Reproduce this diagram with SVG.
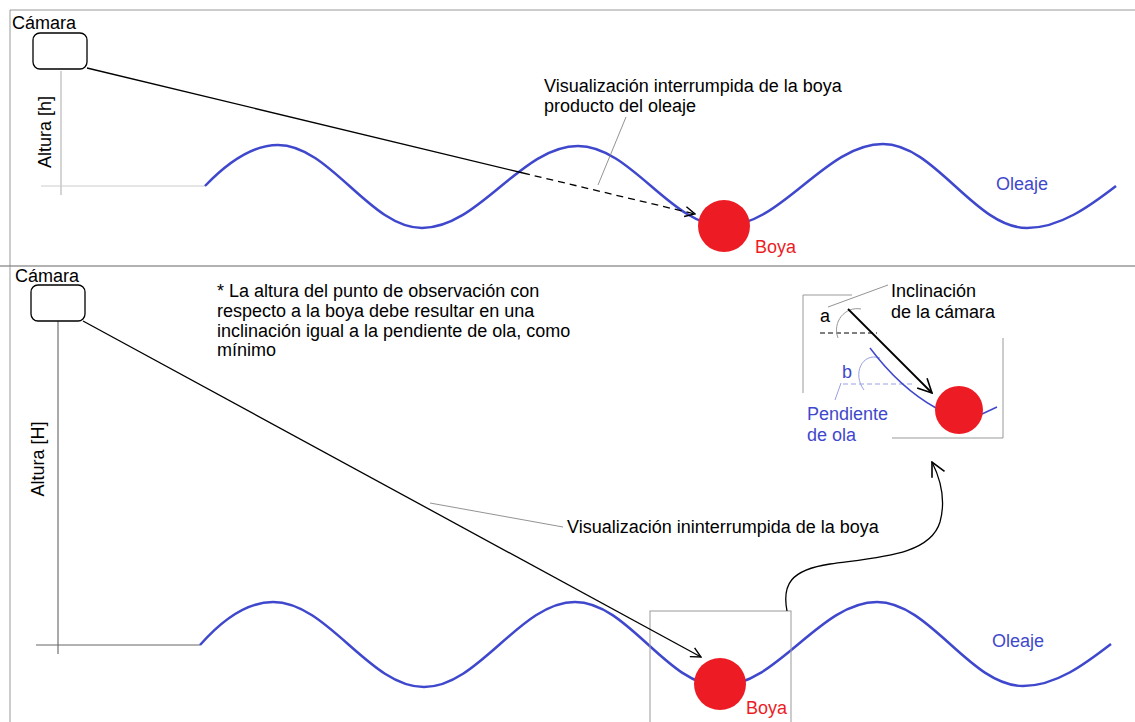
<svg xmlns="http://www.w3.org/2000/svg" width="1135" height="722" viewBox="0 0 1135 722">
<defs>
<style>
text{font-family:"Liberation Sans",Arial,sans-serif;font-size:18px;fill:#000}
.blue{fill:#3f48cc}
.red{fill:#ed1c24}
.wave{fill:none;stroke:#3f48cc;stroke-width:2.5}
.frame{fill:none;stroke:#999;stroke-width:1}
.sight{fill:none;stroke:#000;stroke-width:1.3}
.lead{fill:none;stroke:#777;stroke-width:0.8}
.cam{fill:#fff;stroke:#000;stroke-width:1.3}
.buoy{fill:#ed1c24}
</style>
<marker id="arr" viewBox="0 0 12 12" refX="11" refY="6" markerWidth="12" markerHeight="12" markerUnits="userSpaceOnUse" orient="auto">
<path d="M1,1 L11,6 L1,11" fill="none" stroke="#000" stroke-width="1.4"/>
</marker>
<marker id="arr2" viewBox="0 0 16 16" refX="15" refY="8" markerWidth="16" markerHeight="16" markerUnits="userSpaceOnUse" orient="auto">
<path d="M1,1 L15,8 L1,15" fill="none" stroke="#000" stroke-width="1.6"/>
</marker>
</defs>

<g id="frames">
<path class="frame" d="M1135,10 H10 V266"/>
<path d="M0,266 H1135" stroke="#666" stroke-width="1.2"/>
<path class="frame" d="M10,266 V722"/>
</g>

<!-- Top panel -->
<g id="top-axes">
<path d="M61,71 V195" stroke="#aaa" stroke-width="1"/>
<path d="M41,186 H205" stroke="#ccc" stroke-width="1"/>
<text transform="translate(51,132) rotate(-90)" text-anchor="middle">Altura [h]</text>
</g>
<g id="top-camera">
<text x="12" y="29">Cámara</text>
<rect class="cam" x="33" y="33" width="54" height="36" rx="7"/>
</g>
<g id="top-wave">
<path class="wave" d="M205,186 C228,162 252,145 278,145 C330,145 370,228 422,228 C479,228 521,146 578,146 C631,146 671,226 724,226 C782,226 825,144 883,144 C935,144 975,228 1027,228 C1060,228 1090,206 1116,186"/>
<text class="blue" x="996" y="190">Oleaje</text>
</g>
<g id="top-buoy">
<circle class="buoy" cx="724" cy="226" r="26"/>
<text class="red" x="755" y="253">Boya</text>
</g>
<g id="top-label">
<text x="544" y="92">Visualización interrumpida de la boya</text>
<text x="544" y="112">producto del oleaje</text>
</g>

<!-- Bottom panel -->
<g id="bottom-axes">
<path d="M58,321 V654" stroke="#555" stroke-width="1"/>
<path d="M36,645 H200" stroke="#666" stroke-width="1"/>
<text transform="translate(44,459) rotate(-90)" text-anchor="middle">Altura [H]</text>
</g>
<g id="bottom-camera">
<text x="15" y="282">Cámara</text>
<rect class="cam" x="31" y="285" width="54" height="36" rx="7"/>
</g>
<g id="note">
<text x="217" y="297">* La altura del punto de observación con</text>
<text x="217" y="317">respecto a la boya debe resultar en una</text>
<text x="217" y="337">inclinación igual a la pendiente de ola, como</text>
<text x="217" y="356">mínimo</text>
</g>
<g id="bottom-wave">
<path class="wave" d="M200,645 C222,620 246,602 273,602 C328,602 369,687 424,687 C479,687 520,602 575,602 C628,602 667,686 720,686 C777,686 820,602 877,602 C930,602 970,686 1023,686 C1056,686 1085,664 1111,644"/>
<text class="blue" x="992" y="647">Oleaje</text>
</g>
<g id="zoom-box">
<rect class="frame" x="650" y="611" width="141" height="115"/>
</g>
<g id="bottom-buoy">
<circle class="buoy" cx="720" cy="684" r="26"/>
<text class="red" x="746" y="714">Boya</text>
</g>
<g id="bottom-label">
<text x="567" y="533">Visualización ininterrumpida de la boya</text>
</g>

<!-- Inset -->
<g id="inset">
<path class="frame" d="M803,393 V295 H852"/>
<path class="frame" d="M892,438 H1003 V338"/>
<path d="M820,333 H877" stroke="#000" stroke-width="1" stroke-dasharray="5,3" fill="none"/>
<path d="M861,309 C845,306 832,322 838,338" fill="none" stroke="#999" stroke-width="1"/>
<text x="820" y="322">a</text>
<path d="M843,384 H912" stroke="#9aa0e0" stroke-width="1" stroke-dasharray="5,3" fill="none"/>
<path d="M880,358 C862,352 852,374 864,390" fill="none" stroke="#9aa0e0" stroke-width="1"/>
<path d="M870,348 Q900,388 936,408" fill="none" stroke="#3f48cc" stroke-width="1.5"/>
<path d="M982,414 L997,407" fill="none" stroke="#3f48cc" stroke-width="1.5"/>
<circle class="buoy" cx="959" cy="410" r="24"/>
<text class="blue" x="842" y="378">b</text>
<text class="blue" x="807" y="420">Pendiente</text>
<text class="blue" x="807" y="441">de ola</text>
<text x="891" y="297">Inclinación</text>
<text x="891" y="318">de la cámara</text>
</g>

<g id="connectors">
<path class="sight" d="M87,68 L523,173"/>
<path class="sight" d="M523,173 L695,214" stroke-dasharray="7,5" marker-end="url(#arr)"/>
<path class="lead" d="M626,117 L598,185"/>
<path class="sight" d="M83,321 L701,657" marker-end="url(#arr)"/>
<path class="lead" d="M430,503 L563,527"/>
<path class="sight" d="M787,611 C782,585 790,570 830,564 C880,557 930,555 940,522 C946,500 940,478 932,462" marker-end="url(#arr2)"/>
<path d="M848,309 L932,393" fill="none" stroke="#000" stroke-width="1.8" marker-end="url(#arr2)"/>
<path class="lead" d="M828,307 L888,285"/>
<path d="M841,383 L835,400" fill="none" stroke="#9aa0e0" stroke-width="1"/>
</g>
</svg>
